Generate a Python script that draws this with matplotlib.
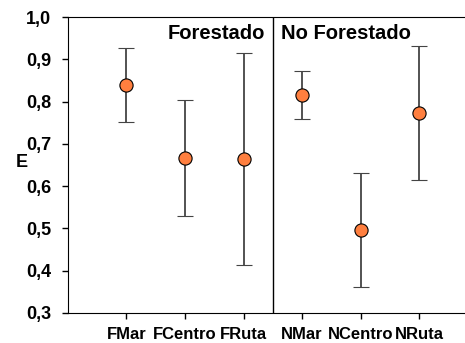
import matplotlib.pyplot as plt
import numpy as np

plt.rcParams['font.family'] = 'Liberation Sans'
plt.rcParams['font.weight'] = 'bold'

sitios = ['FMar', 'FCentro', 'FRuta', 'NMar', 'NCentro', 'NRuta']
media = [0.840, 0.667, 0.664, 0.816, 0.496, 0.773]
error = [0.088, 0.137, 0.251, 0.057, 0.135, 0.158]

fig = plt.figure(figsize=(4.65, 3.43), dpi=100)
ax = fig.add_axes([0.146, 0.0875, 0.854, 0.8625])

x = np.arange(1, len(sitios) + 1)
ax.errorbar(x, media, yerr=error, fmt='o', color='#ff7f3f', mec='black', mew=0.8,
            ms=9.5, ecolor='#444444', elinewidth=1.3, capsize=6, capthick=1.0, zorder=3)

ax.axvline(3.5, color='black', lw=1)

ax.set_xlim(0, 6.78)
ax.set_ylim(0.3, 1.0)
ax.set_xticks(x)
ax.set_xticklabels(sitios, fontsize=12, fontweight='bold')
ax.set_yticks(np.arange(0.3, 1.01, 0.1))
ax.set_yticklabels([f'{v:.1f}'.replace('.', ',') for v in np.arange(0.3, 1.01, 0.1)],
                   fontsize=13, fontweight='bold')
ax.tick_params(direction='out', length=4, width=1)
ax.tick_params(axis='x', pad=6)
ax.tick_params(axis='y', pad=8)
ax.spines['right'].set_visible(False)
ax.set_ylabel('E', fontsize=13, fontweight='bold', rotation=0, labelpad=5)
ax.yaxis.set_label_coords(-0.115, 0.48)

ax.text(3.37, 0.962, 'Forestado', ha='right', va='center', fontsize=14.5, fontweight='bold')
ax.text(3.63, 0.962, 'No Forestado', ha='left', va='center', fontsize=14.5, fontweight='bold')

fig.savefig('out.png', dpi=100)
